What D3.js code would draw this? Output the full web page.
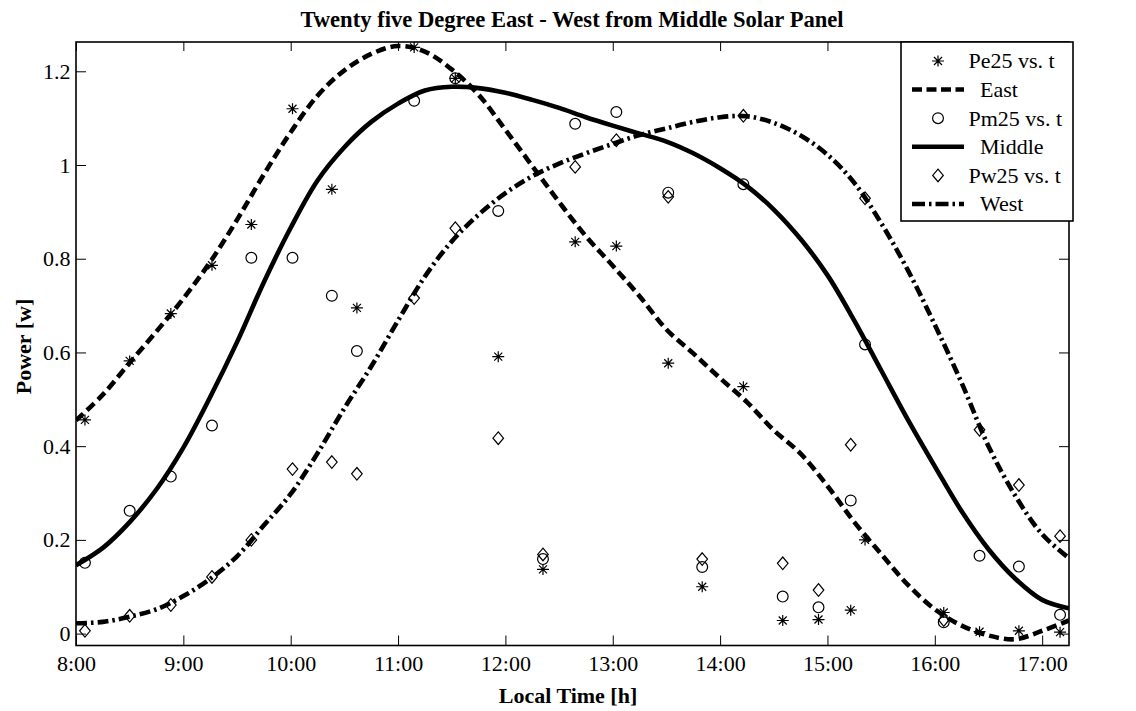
<!DOCTYPE html>
<html>
<head>
<meta charset="utf-8">
<script src="https://cdn.jsdelivr.net/npm/d3@7"></script>
<style>
  body { margin: 0; background: #fff; }
  text { font-family: "Liberation Serif", "Times New Roman", serif; fill: #000; }
</style>
</head>
<body>
<script>
//measurement times (local time) for the three panels
var times = ["8:05", "8:30", "8:53", "9:16", "9:38", "10:01", "10:23", "10:37", "11:09", "11:32",
  "11:56", "12:21", "12:39", "13:02", "13:31", "13:50", "14:13", "14:35", "14:55", "15:13",
  "15:21", "16:05", "16:25", "16:47", "17:10"];

//measured power [w]
var pe25 = [0.456, 0.582, 0.683, 0.786, 0.873, 1.120, 0.948, 0.695, 1.251, 1.185,
  0.591, 0.137, 0.836, 0.827, 0.577, 0.100, 0.527, 0.028, 0.030, 0.050,
  0.200, 0.045, 0.004, 0.006, 0.003];
var pm25 = [0.151, 0.262, 0.335, 0.444, 0.802, 0.802, 0.721, 0.603, 1.137, 1.185,
  0.902, 0.159, 1.088, 1.113, 0.941, 0.142, 0.959, 0.079, 0.056, 0.284,
  0.617, 0.024, 0.166, 0.143, 0.040];
var pw25 = [0.006, 0.038, 0.061, 0.121, 0.200, 0.351, 0.366, 0.341, 0.716, 0.865,
  0.417, 0.169, 0.996, 1.053, 0.932, 0.159, 1.105, 0.150, 0.093, 0.403,
  0.929, 0.029, 0.435, 0.317, 0.208];

var fitTimes = [8, 8.25, 8.5, 8.75, 9, 9.25, 9.5, 9.75, 10, 10.25, 10.5, 10.75, 11, 11.25, 11.5, 11.75,
  12, 12.25, 12.5, 12.75, 13, 13.25, 13.5, 13.75, 14, 14.25, 14.5, 14.75, 15, 15.25, 15.5, 15.75,
  16, 16.25, 16.5, 16.75, 17, 17.25];
var eastFit = [0.455, 0.51, 0.578, 0.645, 0.715, 0.793, 0.883, 0.98, 1.07, 1.148, 1.202, 1.237, 1.254, 1.242, 1.204, 1.15,
  1.075, 0.998, 0.921, 0.848, 0.785, 0.72, 0.649, 0.598, 0.545, 0.494, 0.434, 0.384, 0.315, 0.238, 0.170, 0.104,
  0.052, 0.017, -0.004, -0.012, 0.006, 0.028];
var middleFit = [0.146, 0.183, 0.238, 0.308, 0.397, 0.505, 0.622, 0.75, 0.866, 0.967, 1.038, 1.092, 1.131, 1.159, 1.167, 1.164,
  1.154, 1.139, 1.122, 1.102, 1.084, 1.067, 1.05, 1.025, 0.993, 0.955, 0.905, 0.842, 0.765, 0.668, 0.562, 0.456,
  0.357, 0.261, 0.180, 0.117, 0.072, 0.054];
var westFit = [0.022, 0.025, 0.036, 0.052, 0.08, 0.117, 0.165, 0.231, 0.298, 0.385, 0.481, 0.57, 0.668, 0.762, 0.837, 0.894,
  0.94, 0.976, 1.003, 1.025, 1.045, 1.064, 1.078, 1.092, 1.102, 1.104, 1.090, 1.063, 1.022, 0.962, 0.876, 0.775,
  0.659, 0.535, 0.40, 0.294, 0.212, 0.161];

//ticks
var xTicks = [8, 9, 10, 11, 12, 13, 14, 15, 16, 17];
var xTickLabels = ["8:00", "9:00", "10:00", "11:00", "12:00", "13:00", "14:00", "15:00", "16:00", "17:00"];
var yTicks = [0, 0.2, 0.4, 0.6, 0.8, 1, 1.2];
var yTickLabels = ["0", "0.2", "0.4", "0.6", "0.8", "1", "1.2"];

var legendLabels = ["Pe25 vs. t", "East", "Pm25 vs. t", "Middle", "Pw25 vs. t", "West"];

(function (){
  var width = 1136, height = 711;
  var left = 76, right = 1069, top = 42, bottom = 645.5;

  var svg = d3.select("body").append("svg")
    .attr("width", width)
    .attr("height", height);

  //"H:MM" -> decimal hours
  function toHours(s){
    var p = s.split(":");
    return +p[0] + (+p[1]) / 60;
  }

  var x = d3.scaleLinear().domain([8, 17.25]).range([left, right]);
  var y = d3.scaleLinear().domain([-0.0254, 1.2625]).range([bottom, top]);

  svg.append("clipPath").attr("id", "clip")
    .append("rect")
    .attr("x", left).attr("y", top)
    .attr("width", right - left).attr("height", bottom - top);

  //axes with inward ticks on all four sides
  var xi = function(d){ return xTickLabels[xTicks.indexOf(d)]; };
  var yi = function(d){ return yTickLabels[yTicks.indexOf(d)]; };

  var gx = svg.append("g").attr("transform", "translate(0," + bottom + ")")
    .call(d3.axisBottom(x).tickValues(xTicks).tickFormat(xi).tickSize(-10).tickPadding(9.5));
  var gxt = svg.append("g").attr("transform", "translate(0," + top + ")")
    .call(d3.axisTop(x).tickValues(xTicks).tickFormat("").tickSize(-9));
  var gy = svg.append("g").attr("transform", "translate(" + left + ",0)")
    .call(d3.axisLeft(y).tickValues(yTicks).tickFormat(yi).tickSize(-10).tickPadding(5.5));
  var gyr = svg.append("g").attr("transform", "translate(" + right + ",0)")
    .call(d3.axisRight(y).tickValues(yTicks).tickFormat("").tickSize(-10));

  [gx, gxt, gy, gyr].forEach(function(g){
    g.select(".domain").remove();
    g.selectAll(".tick line").attr("stroke", "#000").attr("stroke-width", 1);
    g.selectAll("text").attr("font-size", 22).attr("font-family", "Liberation Serif").attr("fill", "#000");
  });

  //axes box
  svg.append("rect")
    .attr("x", left).attr("y", top)
    .attr("width", right - left).attr("height", bottom - top)
    .attr("fill", "none").attr("stroke", "#000").attr("stroke-width", 1.6);

  //marker shapes
  function starPath(){
    return "M-6,0H6M0,-5.5V5.5M-4,-4L4,4M-4,4L4,-4";
  }
  function diamondPath(){
    return "M0,-6.3L5.3,0L0,6.3L-5.3,0Z";
  }

  var plot = svg.append("g").attr("clip-path", "url(#clip)");

  var line = d3.line()
    .x(function(d){ return x(d[0]); })
    .y(function(d){ return y(d[1]); })
    .curve(d3.curveCatmullRom.alpha(0.5));

  function fitData(vals){
    return fitTimes.map(function(t, i){ return [t, vals[i]]; });
  }
  function pointData(vals){
    return times.map(function(t, i){ return [toHours(t), vals[i]]; });
  }

  function drawStars(vals){
    plot.append("g").selectAll("path")
      .data(pointData(vals)).enter().append("path")
      .attr("d", starPath())
      .attr("transform", function(d){ return "translate(" + x(d[0]) + "," + y(d[1]) + ")"; })
      .attr("fill", "none").attr("stroke", "#000").attr("stroke-width", 1.2);
  }
  function drawCircles(vals){
    plot.append("g").selectAll("circle")
      .data(pointData(vals)).enter().append("circle")
      .attr("cx", function(d){ return x(d[0]); })
      .attr("cy", function(d){ return y(d[1]); })
      .attr("r", 5.4)
      .attr("fill", "none").attr("stroke", "#000").attr("stroke-width", 1.2);
  }
  function drawDiamonds(vals){
    plot.append("g").selectAll("path")
      .data(pointData(vals)).enter().append("path")
      .attr("d", diamondPath())
      .attr("transform", function(d){ return "translate(" + x(d[0]) + "," + y(d[1]) + ")"; })
      .attr("fill", "none").attr("stroke", "#000").attr("stroke-width", 1.2);
  }
  function drawFit(vals, dash){
    plot.append("path")
      .datum(fitData(vals))
      .attr("d", line)
      .attr("fill", "none").attr("stroke", "#000").attr("stroke-width", 4.6)
      .attr("stroke-dasharray", dash);
  }

  //same order as the original plot call
  drawStars(pe25);
  drawFit(eastFit, "10,5");
  drawCircles(pm25);
  drawFit(middleFit, null);
  drawDiamonds(pw25);
  drawFit(westFit, "11,4,2.5,4");

  //legend
  var lg = svg.append("g");
  lg.append("rect")
    .attr("x", 901).attr("y", top)
    .attr("width", 172).attr("height", 179)
    .attr("fill", "#fff").attr("stroke", "#000").attr("stroke-width", 1.6);

  var rowY = function(i){ return 61 + i * 28.6; };
  legendLabels.forEach(function(lab, i){
    var cy = rowY(i);
    var isLine = (i % 2 === 1);
    if (isLine){
      lg.append("line")
        .attr("x1", 912).attr("x2", 964).attr("y1", cy).attr("y2", cy)
        .attr("stroke", "#000").attr("stroke-width", 4.5)
        .attr("stroke-dasharray", i === 1 ? "10,4.5" : (i === 5 ? "13,4,2.5,4" : null));
    } else if (i === 0){
      lg.append("path").attr("d", starPath())
        .attr("transform", "translate(938," + cy + ")")
        .attr("fill", "none").attr("stroke", "#000").attr("stroke-width", 1.2);
    } else if (i === 2){
      lg.append("circle").attr("cx", 938).attr("cy", cy).attr("r", 5.4)
        .attr("fill", "none").attr("stroke", "#000").attr("stroke-width", 1.2);
    } else {
      lg.append("path").attr("d", diamondPath())
        .attr("transform", "translate(938," + cy + ")")
        .attr("fill", "none").attr("stroke", "#000").attr("stroke-width", 1.2);
    }
    lg.append("text")
      .attr("x", isLine ? 980 : 968.5)
      .attr("y", cy)
      .attr("dy", "0.34em")
      .attr("font-size", 22)
      .text(lab);
  });

  //titles
  svg.append("text")
    .attr("x", 572).attr("y", 26.5)
    .attr("text-anchor", "middle")
    .attr("font-size", 22.6).attr("font-weight", "bold")
    .text("Twenty five Degree East - West from Middle Solar Panel");

  svg.append("text")
    .attr("x", 568).attr("y", 703)
    .attr("text-anchor", "middle")
    .attr("font-size", 22).attr("font-weight", "bold")
    .text("Local Time [h]");

  svg.append("text")
    .attr("transform", "translate(31,346.5) rotate(-90)")
    .attr("text-anchor", "middle")
    .attr("font-size", 22).attr("font-weight", "bold")
    .text("Power [w]");
})();
</script>
</body>
</html>
